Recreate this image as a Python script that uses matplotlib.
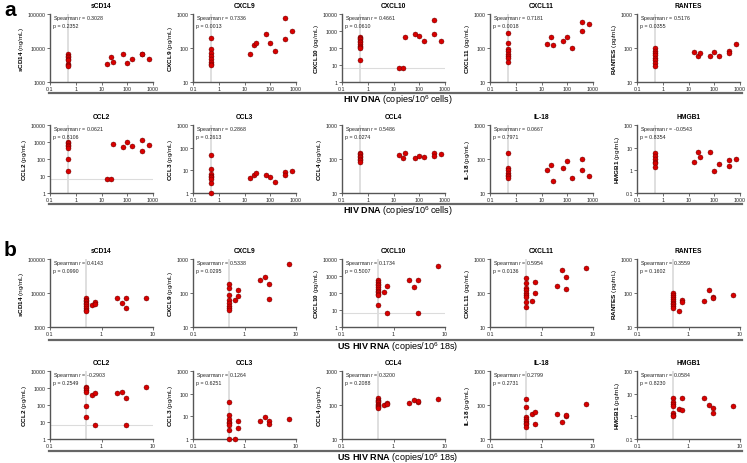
import matplotlib
matplotlib.use("Agg")
import matplotlib.pyplot as plt
from matplotlib.lines import Line2D
from matplotlib.ticker import FixedLocator, FuncFormatter, NullLocator

plt.rcParams["font.family"] = ["Liberation Sans", "DejaVu Sans"]
plt.rcParams["mathtext.fontset"] = "custom"
plt.rcParams["mathtext.rm"] = "Liberation Sans"
plt.rcParams["mathtext.bf"] = "Liberation Sans:bold"
plt.rcParams["mathtext.it"] = "Liberation Sans:italic"

# ---- data ----
markers = ["sCD14", "CXCL9", "CXCL10", "CXCL11", "RANTES",
           "CCL2", "CCL3", "CCL4", "IL-18", "HMGB1"]
units = {"sCD14": "ng/mL"}
ylims = {"sCD14": (1e3, 1e5), "CXCL9": (10, 1e3), "CXCL10": (1, 1e4),
         "CXCL11": (10, 1e3), "RANTES": (10, 1e3), "CCL2": (1, 1e4),
         "CCL3": (1, 1e3), "CCL4": (10, 1e3), "IL-18": (10, 1e3),
         "HMGB1": (0.1, 100)}
lod_x = 0.5
lod_y = {"CXCL10": 6.8, "CCL2": 6.5}

# HIV DNA (copies/10^6 cells) of the samples with detectable DNA
dna_x = [16, 24, 27, 66, 100, 150, 360, 360, 700]
dna_und = {
    "sCD14": [6600, 6000, 5400, 4800, 4300, 3500, 3100, 3000],
    "CXCL9": [203, 91, 69, 58, 48, 40, 35, 31],
    "CXCL10": [470, 400, 330, 270, 220, 180, 140, 110, 98, 20],
    "CXCL11": [280, 141, 92, 82, 68, 58, 50, 39],
    "RANTES": [102, 82, 69, 61, 52, 44, 37, 29],
    "CCL2": [1000, 850, 700, 550, 450, 95, 19],
    "CCL3": [47, 12, 6.8, 5.8, 4.9, 4.1, 2.7, 1.0],
    "CCL4": [155, 140, 125, 112, 100, 92, 83],
    "IL-18": [152, 55, 46, 39, 35, 31, 28],
    "HMGB1": [6.1, 4.3, 3.1, 2.4, 2.1, 1.4],
}
dna_det = {
    "sCD14": [3500, 5500, 3850, 6650, 3700, 4600, 6650, 6650, 4900],
    "CXCL9": [68, 123, 138, 262, 144, 83, 760, 190, 307],
    "CXCL10": [6.9, 6.9, 430, 670, 540, 275, 4500, 670, 250],
    "CXCL11": [134, 217, 120, 161, 213, 102, 565, 313, 525],
    "RANTES": [76, 60, 69, 58, 76, 57, 82, 69, 132],
    "CCL2": [6.5, 6.5, 750, 520, 1030, 550, 1300, 280, 660],
    "CCL3": [4.6, 6.3, 7.5, 6.2, 5.0, 3.0, 8.7, 6.2, 9.8],
    "CCL4": [132, 110, 155, 110, 126, 118, 155, 124, 145],
    "IL-18": [46, 65, 22, 54, 89, 28, 103, 49, 32],
    "HMGB1": [2.4, 6.3, 3.7, 6.3, 0.95, 1.95, 2.8, 1.5, 3.1],
}
dna_r = {"sCD14": "0.3028", "CXCL9": "0.7336", "CXCL10": "0.4661",
         "CXCL11": "0.7181", "RANTES": "0.5176", "CCL2": "0.0621",
         "CCL3": "0.2868", "CCL4": "0.5486", "IL-18": "0.0667",
         "HMGB1": "-0.0543"}
dna_p = {"sCD14": "0.2352", "CXCL9": "0.0013", "CXCL10": "0.0610",
         "CXCL11": "0.0018", "RANTES": "0.0355", "CCL2": "0.8106",
         "CCL3": "0.2613", "CCL4": "0.0274", "IL-18": "0.7971",
         "HMGB1": "0.8354"}

# US HIV RNA (copies/10^6 18s) of the samples with detectable RNA
rna_x = [0.65, 0.75, 0.75, 2.0, 2.45, 3.0, 3.0, 7.2]
rna_und = {
    "sCD14": [7000, 6300, 5700, 5100, 4600, 4100, 3600, 3200, 2900],
    "CXCL9": [190, 136, 87, 63, 50, 42, 36, 31],
    "CXCL10": [560, 450, 360, 290, 230, 180, 140, 110, 90, 76, 20],
    "CXCL11": [277, 198, 136, 122, 98, 87, 75, 54, 40],
    "RANTES": [98, 85, 75, 66, 58, 52, 46, 41, 37],
    "CCL2": [1100, 950, 770, 620, 92, 19],
    "CCL3": [45, 11.6, 7.5, 5.9, 5.0, 4.2, 2.6, 1.0],
    "CCL4": [160, 145, 130, 120, 110, 100, 92, 85, 80],
    "IL-18": [150, 89, 44, 38, 34, 30, 27, 22],
    "HMGB1": [6.2, 4.5, 3.4, 2.9, 1.4, 1.15, 1.0],
}
rna_det = {
    "sCD14": [4500, 5600, 4800, 6900, 5000, 6900, 3700, 6900],
    "CXCL9": [63, 82, 123, 237, 295, 178, 66, 690],
    "CXCL10": [110, 250, 6.7, 620, 235, 620, 6.7, 3950],
    "CXCL11": [59, 213, 98, 160, 490, 296, 128, 540],
    "RANTES": [30, 62, 56, 58, 122, 77, 73, 86],
    "CCL2": [410, 490, 6.5, 490, 620, 260, 6.5, 1200],
    "CCL3": [1.0, 6.1, 3.0, 6.1, 9.8, 6.1, 4.6, 8.0],
    "CCL4": [100, 112, 108, 112, 140, 123, 128, 146],
    "IL-18": [54, 64, 28, 54, 32, 46, 50, 105],
    "HMGB1": [2.1, 6.2, 1.9, 6.2, 3.3, 2.4, 1.46, 3.0],
}
rna_r = {"sCD14": "0.4143", "CXCL9": "0.5338", "CXCL10": "0.1734",
         "CXCL11": "0.5954", "RANTES": "0.3559", "CCL2": "-0.2903",
         "CCL3": "0.1264", "CCL4": "0.3200", "IL-18": "0.2799",
         "HMGB1": "0.0584"}
rna_p = {"sCD14": "0.0990", "CXCL9": "0.0295", "CXCL10": "0.5007",
         "CXCL11": "0.0136", "RANTES": "0.1602", "CCL2": "0.2549",
         "CCL3": "0.6251", "CCL4": "0.2088", "IL-18": "0.2731",
         "HMGB1": "0.8230"}

dna_xticks = [0.1, 1, 10, 100, 1000]
rna_xticks = [0.1, 1, 10]

# ---- layout (pixels) ----
W, H = 747, 464
COL_LEFT = [50, 193, 342, 490, 637]
AX_W, AX_H = 103, 68
ROW_TOP = [15, 126, 260, 372]
DOT = "#d80000"
EDGE = "#5a0000"
AXC = "#555555"


def bold(s):
    return "-".join(r"$\mathbf{%s}$" % part for part in s.split("-"))


fmt = FuncFormatter(lambda v, _: f"{v:g}")


def panel(fig, row, col, name, xs, und, det, r, p, xticks):
    left = COL_LEFT[col] / W
    bottom = 1 - (ROW_TOP[row] + AX_H) / H
    ax = fig.add_axes([left, bottom, AX_W / W, AX_H / H])
    ax.set_xscale("log")
    ax.set_yscale("log")
    ax.set_xlim(xticks[0], xticks[-1])
    lo, hi = ylims[name]
    ax.set_ylim(lo, hi)

    ax.axvline(lod_x, color="#dcdcdc", lw=1.3, zorder=0)
    if name in lod_y:
        ax.axhline(lod_y[name], color="#dcdcdc", lw=0.8, zorder=0)

    ax.scatter([lod_x] * len(und), und, s=13, c=DOT, edgecolors=EDGE,
               linewidths=0.3, zorder=3, clip_on=False)
    ax.scatter(xs, det, s=13, c=DOT, edgecolors=EDGE,
               linewidths=0.3, zorder=3, clip_on=False)

    yt = []
    v = lo
    while v <= hi * 1.001:
        yt.append(v)
        v *= 10
    ax.xaxis.set_major_locator(FixedLocator(xticks))
    ax.yaxis.set_major_locator(FixedLocator(yt))
    ax.xaxis.set_minor_locator(NullLocator())
    ax.yaxis.set_minor_locator(NullLocator())
    ax.xaxis.set_major_formatter(fmt)
    ax.yaxis.set_major_formatter(fmt)
    ax.tick_params(length=2, width=0.6, pad=1, labelsize=3.8, colors="#222",
                   color=AXC)
    for s in ("top", "right"):
        ax.spines[s].set_visible(False)
    for s in ("left", "bottom"):
        ax.spines[s].set_color(AXC)
        ax.spines[s].set_linewidth(1.0)

    ax.set_title(name, fontsize=4.8, fontweight="bold", pad=5)
    ax.set_ylabel(bold(name) + " (%s)" % units.get(name, "pg/mL"),
                  fontsize=4.6, labelpad=1.5)
    ax.text(0.03, 1.02, "Spearman $\\mathit{r}$ = %s\np = %s" % (r, p),
            transform=ax.transAxes, fontsize=3.8, va="top", ha="left",
            linespacing=1.25, color="#222")
    return ax


fig = plt.figure(figsize=(W / 100, H / 100), dpi=100)

for i, m in enumerate(markers):
    row, col = divmod(i, 5)
    panel(fig, row, col, m, dna_x, dna_und[m], dna_det[m],
          dna_r[m], dna_p[m], dna_xticks)
    panel(fig, row + 2, col, m, rna_x, rna_und[m], rna_det[m],
          rna_r[m], rna_p[m], rna_xticks)

# section rules + shared x labels
dna_label = bold("HIV") + " " + bold("DNA") + " (copies/10$^6$ cells)"
rna_label = bold("US") + " " + bold("HIV") + " " + bold("RNA") + " (copies/10$^6$ 18s)"
for ypx, lab in [(94, dna_label), (205, dna_label),
                 (341, rna_label), (452, rna_label)]:
    fig.add_artist(Line2D([49 / W, 742 / W], [1 - ypx / H, 1 - ypx / H],
                          color="#666666", lw=1.6))
    fig.text(398 / W, 1 - (ypx + 6) / H, lab, fontsize=6.5,
             ha="center", va="center")

fig.text(10 / W, 1 - 11 / H, "a", fontsize=15, fontweight="bold",
         ha="center", va="center")
fig.text(10 / W, 1 - 251 / H, "b", fontsize=15, fontweight="bold",
         ha="center", va="center")

fig.savefig("out.png", dpi=100)
